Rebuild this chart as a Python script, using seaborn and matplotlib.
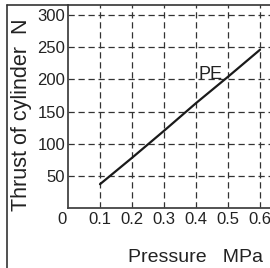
import matplotlib
matplotlib.use("Agg")
import matplotlib.pyplot as plt
import seaborn as sns
import pandas as pd
from matplotlib.lines import Line2D

pressure = [0.1, 0.2, 0.3, 0.4, 0.5, 0.6]
thrust = [37, 78, 120, 163, 204, 246]
x_ticks = [0.1, 0.2, 0.3, 0.4, 0.5, 0.6]
y_ticks = [50, 100, 150, 200, 250, 300]
series_label = "PE"

sns.set_theme(style="white")
plt.rcParams['font.family'] = ['Liberation Sans', 'DejaVu Sans']

df = pd.DataFrame({"Pressure": pressure, "Thrust": thrust})

fig = plt.figure(figsize=(2.70, 2.68), dpi=100)
ax = fig.add_axes([68/270, 1-208/268, 1-68/270, (208-5)/268])

sns.lineplot(data=df, x="Pressure", y="Thrust", ax=ax, color="#1a1a1a", linewidth=1.6)

ax.set_xlim(0, (270-68)/320)
ax.set_ylim(0, 300 + 10/0.6433)
ax.set_xticks(x_ticks)
ax.set_xticklabels([f"{v:.1f}" for v in x_ticks])
ax.set_yticks(y_ticks)
ax.set_yticklabels([str(v) for v in y_ticks])
ax.tick_params(axis="both", length=0, labelsize=12, colors="#222222")
ax.tick_params(axis="y", pad=2)
ax.tick_params(axis="x", pad=3)
ax.grid(True, linestyle=(0, (5, 3)), color="#333333", linewidth=0.9)
for s in ["top", "right"]:
    ax.spines[s].set_visible(False)
for s in ["left", "bottom"]:
    ax.spines[s].set_color("#444444")
    ax.spines[s].set_linewidth(1.3)

ax.set_xlabel("")
ax.set_ylabel("")
ax.text(-0.02, -6, "0", ha="center", va="top", fontsize=12, color="#222222")
ax.text(0.445, 207, series_label, ha="center", va="center", fontsize=13, color="#222222")

fig.text(196/270, 1-257/268, "Pressure   MPa", ha="center", va="center", fontsize=14, color="#222222")
fig.text(22/270, 1-115/268, "Thrust of cylinder  N", ha="center", va="center", rotation=90, fontsize=15.5, color="#222222")

fig.add_artist(Line2D([7/270, 7/270], [0, 1-5/268], transform=fig.transFigure, color="#333333", linewidth=1.2))
fig.add_artist(Line2D([7/270, 1], [1-5/268, 1-5/268], transform=fig.transFigure, color="#333333", linewidth=1.2))

fig.savefig("out.png", dpi=100)
